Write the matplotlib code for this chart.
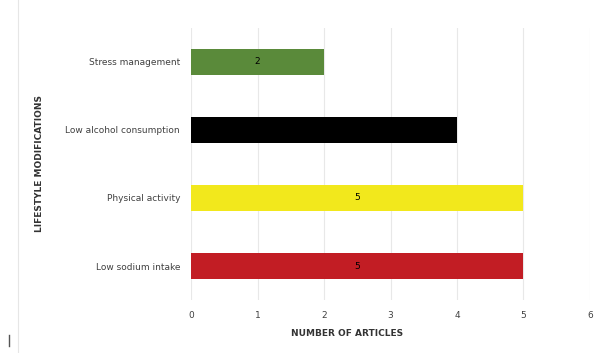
import numpy as np
import matplotlib.pyplot as plt
from matplotlib.lines import Line2D

categories = ['Low sodium intake', 'Physical activity',
              'Low alcohol consumption', 'Stress management']
articles = [5, 5, 4, 2]
bar_colors = ['#c21d24', '#f2e81c', '#000000', '#5a8a3a']
bar_labels = ['5', '5', '4', '2']

fig = plt.figure(figsize=(6.05, 3.53), dpi=100)
ax = fig.add_axes([0.316, 0.150, 0.659, 0.771])

y = np.arange(len(categories))
bars = ax.barh(y, articles, height=0.38, color=bar_colors)

for bar, lab in zip(bars, bar_labels):
    ax.text(bar.get_width() / 2, bar.get_y() + bar.get_height() / 2, lab,
            ha='center', va='center', fontsize=6.5, color='#000000')

ax.set_xlim(0, 6)
ax.set_ylim(-0.5, 3.5)
ax.set_xticks(range(7))
ax.set_yticks(y)
ax.set_yticklabels(categories)
ax.tick_params(axis='both', length=0, labelsize=6.5, colors='#404040',
               pad=8)
ax.xaxis.grid(True, color='#e8e8e8', linewidth=0.8)
ax.set_axisbelow(True)
for s in ax.spines.values():
    s.set_visible(False)

fig.text(0.574, 0.054, 'NUMBER OF ARTICLES', ha='center', va='center',
         fontsize=6.5, fontweight='bold', color='#333333')
fig.text(0.066, 0.538, 'LIFESTYLE MODIFICATIONS', ha='center', va='center',
         rotation=90, fontsize=6.5, fontweight='bold', color='#333333')

# faint chart-area border on the left
fig.add_artist(Line2D([0.030, 0.030], [0.0, 1.0], color='#e6e6e6',
                      linewidth=0.8, transform=fig.transFigure))
fig.add_artist(Line2D([0.015, 0.015], [0.02, 0.05], color='#555555',
                      linewidth=1.0, transform=fig.transFigure))

fig.savefig('out.png', dpi=100)
